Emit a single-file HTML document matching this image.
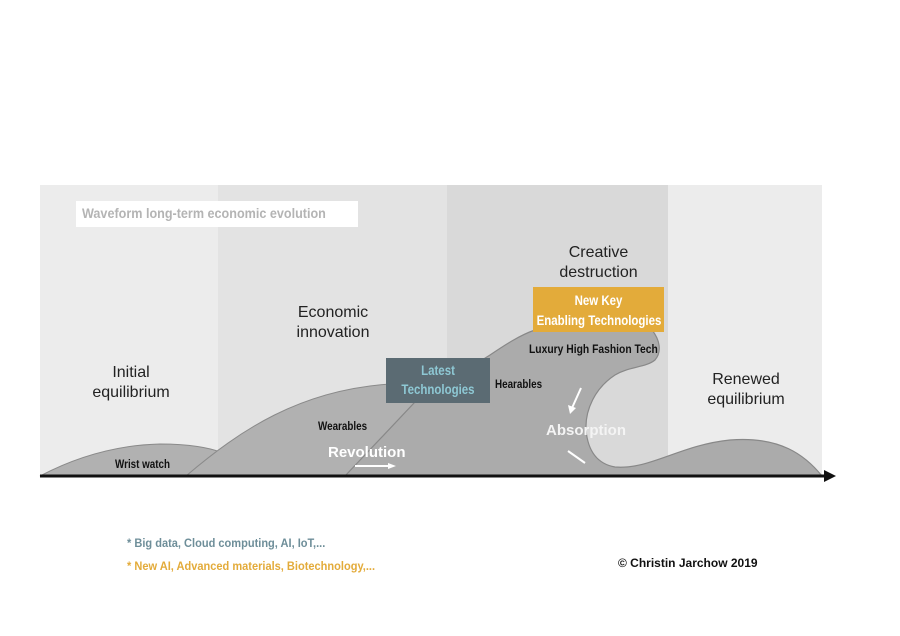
<!DOCTYPE html>
<html><head><meta charset="utf-8"><style>
html,body{margin:0;padding:0;background:#fff;}
body{width:900px;height:636px;position:relative;overflow:hidden;font-family:"Liberation Sans",sans-serif;}
.t{position:absolute;white-space:nowrap;}
.c{transform:scaleX(0.82);transform-origin:left top;}
.cc{transform:scaleX(0.82);transform-origin:center top;}
</style></head><body>
<svg width="900" height="636" style="position:absolute;left:0;top:0">
<rect x="40" y="185" width="178" height="291" fill="#ececec"/>
<rect x="218" y="185" width="229" height="291" fill="#e3e3e3"/>
<rect x="447" y="185" width="221" height="291" fill="#d9d9d9"/>
<rect x="668" y="185" width="154" height="291" fill="#ececec"/>
<rect x="76" y="201" width="282" height="26" fill="#fff"/>
<path d="M40,476 C80,455 120,445 160,444 C190,444 210,448 220,452 L200,476 Z" fill="#b1b1b1" stroke="#8a8a8a" stroke-width="1"/>
<path d="M186,476 C240,430 300,390 390,384 L490,384 L490,476 Z" fill="#b1b1b1" stroke="#8a8a8a" stroke-width="1"/>
<path d="M345,476 L415,402 L490,355 C505,345 520,335 535,330 L652,330 C660,340 662,352 655,360 C645,368 630,366 615,375 C595,388 585,410 586,430 C588,452 598,464 615,467 C650,470 680,445 730,440 C780,436 805,455 822,476 Z" fill="#ababab" stroke="#888" stroke-width="1.2"/>
<line x1="40" y1="476" x2="826" y2="476" stroke="#111" stroke-width="3"/>
<polygon points="824,470 836,476 824,482" fill="#111"/>
<rect x="386" y="358" width="104" height="45" fill="#5b6b73"/>
<rect x="533" y="287" width="131" height="45" fill="#e3ab3a"/>
<line x1="355" y1="466" x2="390" y2="466" stroke="#fff" stroke-width="2"/>
<polygon points="388,463 396,466 388,469" fill="#fff"/>
<line x1="581" y1="388" x2="572" y2="408" stroke="#fff" stroke-width="2"/>
<polygon points="568,405 570,414 576,408" fill="#fff"/>
<line x1="568" y1="451" x2="585" y2="463" stroke="#fff" stroke-width="2"/>
</svg>
<div class="t" style="left:82px;top:205px;font-size:14px;font-weight:bold;color:#b4b4b4;transform:scaleX(0.9);transform-origin:left top;">Waveform long-term economic evolution</div>
<div class="t" style="left:86px;top:363px;font-size:16px;color:#222;text-align:center;line-height:20px;width:90px">Initial<br>equilibrium</div>
<div class="t" style="left:290px;top:303px;font-size:16px;color:#222;text-align:center;line-height:20px;width:86px">Economic<br>innovation</div>
<div class="t" style="left:551px;top:243px;font-size:16px;color:#222;text-align:center;line-height:20px;width:95px">Creative<br>destruction</div>
<div class="t" style="left:696px;top:370px;font-size:16px;color:#222;text-align:center;line-height:20px;width:100px">Renewed<br>equilibrium</div>
<div class="t cc" style="left:386px;top:361px;width:104px;text-align:center;font-size:14px;font-weight:bold;color:#8ec8d4;line-height:19px;">Latest<br>Technologies</div>
<div class="t cc" style="left:523px;top:290px;width:151px;text-align:center;font-size:14px;font-weight:bold;color:#fff;line-height:20px;">New Key<br>Enabling Technologies</div>
<div class="t c" style="left:115px;top:457px;font-size:12px;font-weight:bold;color:#111;">Wrist watch</div>
<div class="t c" style="left:318px;top:419px;font-size:12px;font-weight:bold;color:#111;">Wearables</div>
<div class="t c" style="left:495px;top:377px;font-size:12px;font-weight:bold;color:#111;">Hearables</div>
<div class="t" style="left:529px;top:342px;font-size:12px;font-weight:bold;color:#111;transform:scaleX(0.86);transform-origin:left top;">Luxury High Fashion Tech</div>
<div class="t" style="left:328px;top:444px;font-size:15px;font-weight:bold;color:#fff;">Revolution</div>
<div class="t" style="left:546px;top:422px;font-size:15px;font-weight:bold;color:#f4f4f4;">Absorption</div>
<div class="t" style="left:127px;top:536px;font-size:12px;font-weight:bold;color:#6e8e99;transform:scaleX(0.92);transform-origin:left top;">* Big data, Cloud computing, AI, IoT,...</div>
<div class="t" style="left:127px;top:559px;font-size:12px;font-weight:bold;color:#e3ab3a;transform:scaleX(0.92);transform-origin:left top;">* New AI, Advanced materials, Biotechnology,...</div>
<div class="t" style="left:618px;top:556px;font-size:12px;font-weight:bold;color:#111;">© Christin Jarchow 2019</div>
</body></html>
